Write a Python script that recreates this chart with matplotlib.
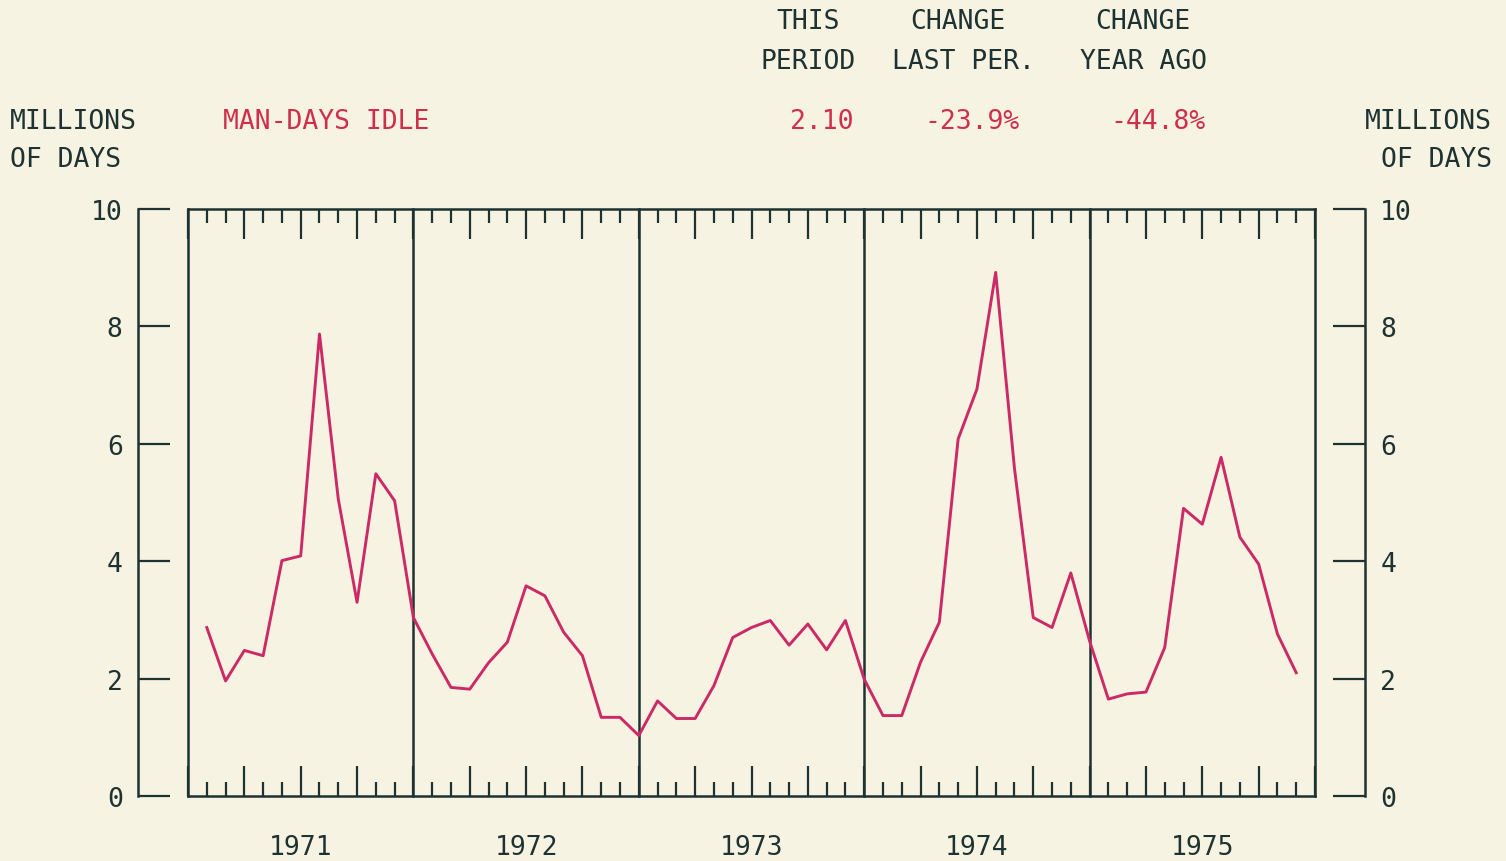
import numpy as np
import matplotlib.pyplot as plt
from matplotlib.ticker import MultipleLocator

# monthly man-days idle, Jan 1971 .. Nov 1975 (millions)
idle_1971 = [2.87, 1.96, 2.48, 2.39, 4.01, 4.09, 7.87, 5.06, 3.30, 5.49, 5.03, 3.04]
idle_1972 = [2.42, 1.85, 1.82, 2.27, 2.62, 3.58, 3.41, 2.79, 2.39, 1.34, 1.34, 1.03]
idle_1973 = [1.62, 1.32, 1.32, 1.88, 2.70, 2.87, 2.99, 2.57, 2.93, 2.49, 2.99, 1.99]
idle_1974 = [1.37, 1.37, 2.28, 2.96, 6.08, 6.93, 8.92, 5.58, 3.04, 2.87, 3.80, 2.64]
idle_1975 = [1.65, 1.74, 1.77, 2.53, 4.90, 4.63, 5.77, 4.41, 3.95, 2.76, 2.10]
years = ['1971', '1972', '1973', '1974', '1975']

this_period = '2.10'
change_last = '-23.9%'
change_year = '-44.8%'

idle = np.array(idle_1971 + idle_1972 + idle_1973 + idle_1974 + idle_1975)
months = np.arange(1, len(idle) + 1)  # plotted at month end

paper = '#f7f3e2'
ink = '#1e3232'
red = '#cf2f4c'
line_col = '#cc2a66'
fs = 19
font = 'DejaVu Sans Mono'

fig = plt.figure(figsize=(15.06, 8.62), dpi=100, facecolor=paper)
ax = fig.add_axes([188 / 1506, 1 - 797 / 862, 1127 / 1506, 587 / 862], facecolor=paper)

ax.set_xlim(0, 60)
ax.set_ylim(0, 10)

# outer value scales on both sides
for side in ['left', 'right']:
    ax.spines[side].set_position(('outward', 36))
    ax.spines[side].set_color(ink)
    ax.spines[side].set_linewidth(1.8)
for side in ['top', 'bottom']:
    ax.spines[side].set_color(ink)
    ax.spines[side].set_linewidth(1.8)

ax.yaxis.set_major_locator(MultipleLocator(2))
ax.tick_params(axis='y', which='both', direction='in', length=23, width=1.6, color=ink,
               left=True, right=True, labelleft=True, labelright=True,
               labelsize=fs, labelcolor=ink)
ax.tick_params(axis='y', which='major', pad=11)
for lab in ax.get_yticklabels():
    lab.set_family(font)

# month ticks top and bottom, quarters longer
ax.xaxis.set_major_locator(MultipleLocator(3))
ax.xaxis.set_minor_locator(MultipleLocator(1))
ax.tick_params(axis='x', which='major', direction='in', length=21.5, width=1.6, color=ink,
               top=True, bottom=True, labelbottom=False)
ax.tick_params(axis='x', which='minor', direction='in', length=10, width=1.6, color=ink,
               top=True, bottom=True)

# year boxes
for i in range(len(years) + 1):
    ax.axvline(12 * i, color=ink, lw=1.8, zorder=2, clip_on=False)

ax.plot(months, idle, color=line_col, lw=2.1, zorder=3)

for i, yr in enumerate(years):
    ax.text(12 * i + 6, -0.087, yr, transform=ax.get_xaxis_transform(),
            ha='center', va='center', fontsize=fs, family=font, color=ink)

def ftext(x, y, s, **kw):
    kw.setdefault('color', ink)
    fig.text(x / 1506, 1 - y / 862, s, fontsize=fs, family=font, va='center', **kw)

ftext(808, 22, 'THIS', ha='center')
ftext(808, 62, 'PERIOD', ha='center')
ftext(958, 22, 'CHANGE', ha='center')
ftext(963, 62, 'LAST PER.', ha='center')
ftext(1143, 22, 'CHANGE', ha='center')
ftext(1143, 62, 'YEAR AGO', ha='center')

ftext(10, 122, 'MILLIONS', ha='left')
ftext(10, 160, 'OF DAYS', ha='left')
ftext(1492, 122, 'MILLIONS', ha='right')
ftext(1492, 160, 'OF DAYS', ha='right')

ftext(223, 122, 'MAN-DAYS IDLE', ha='left', color=red)
ftext(822, 122, this_period, ha='center', color=red)
ftext(972, 122, change_last, ha='center', color=red)
ftext(1158, 122, change_year, ha='center', color=red)

fig.savefig('out.png', dpi=100, facecolor=paper)
